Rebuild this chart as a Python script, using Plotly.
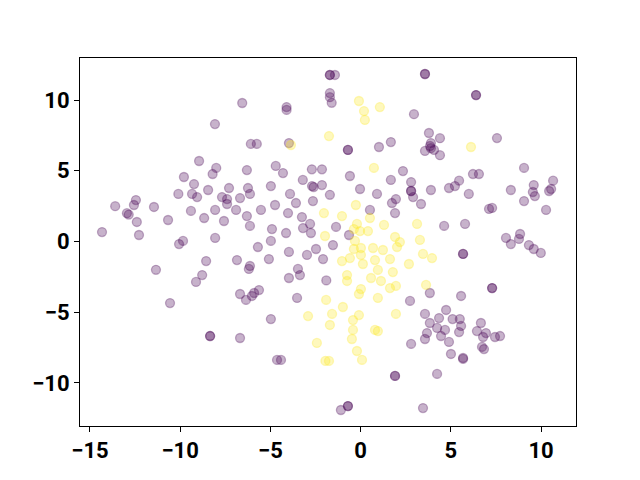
import plotly.graph_objects as go

purple_x = [-8.95, -9.79, -1.7, -1.7, -1.42, -1.7, -1.7, -1.6, -6.56, -4.1, -4.1, -8.07,
            -6.08, -5.75, -3.97, -8.0, -8.2, -6.3, -4.7, -4.3, -3.2, -2.7, -2.14,
            3.57, 3.57, 2.96, 3.79, 4.4, 3.9, 3.85, 3.9, 3.57, 4.07, 4.4, -0.7, -0.7,
            1.02, 1.68, -0.59, 2.35, 1.68, 2.8, 6.4, 6.4, 7.56, 9.06, 6.23, 6.56, 5.46, 10.67,
            -9.23, -10.1, -9.34, -9.06, -13.6, -12.45, -12.56, -12.95, -12.85, -11.45, -12.4,
            -14.33, -12.28, -10.67, -9.4, -8.67, -9.84, -10.06, -11.34, -8.56, -8.78, -9.12, -10.56,
            -8.45, -7.29, -7.68, -7.4, -7.4, -6.68, -6.24, -6.13, -4.97, -8.06, -6.9, -7.57,
            -6.3, -6.13, -5.52, -4.74, -3.91, -3.58, -2.69, -2.6, -2.14, -1.7, -2.64, -4.02,
            -3.25, -2.8, -3.19, -2.75, -4.91, -4.13, -8.06, -4.97, -5.69, -3.97, -2.97, -2.47,
            -2.08, -6.85, -5.08, -6.13, -6.19, -3.47, -3.36, -3.97, -1.9, -6.68, -6.02, -5.9,
            -5.63, -6.35, -3.52, -0.03, 0.91, 2.8, 2.8, 2.91, 1.74, 1.96, 1.91, 3.9, 3.35, 4.9,
            4.63, 0.52, -1.36, -0.64, -1.53, 3.84, 2.74, 5.23, 6.0, 8.33, 9.06, 9.6, 9.55, 9.66,
            10.45, 10.56, 10.28, 7.12, 7.29, 5.79, 8.06, 8.33, 8.78, 8.84, 9.33, 9.6, 9.99,
            5.68, 5.68, 7.29, 7.29, 5.57, -4.97, -8.34, -8.34, -6.68, -4.63, -4.41,
            3.57, 3.84, 3.68, 3.57, 4.35, 4.74, 4.24, 4.68, 4.46, 4.9, 5.01, 2.8, 1.91, 1.91,
            4.24, -0.7, -0.7, -1.09, 3.46, 5.1, 5.5, 5.57, 5.46, 6.67, 6.45, 6.95, 6.79,
            7.45, 7.73, 6.73, 6.84, 5.68, 5.68]
purple_y = [5.69, 4.56, 11.77, 11.77, 11.77, 10.49, 10.2, 9.8, 9.79, 9.5, 9.3, 8.3,
            6.9, 6.9, 6.96, 5.2, 4.77, 5.05, 5.34, 4.84, 4.35, 5.1, 5.1,
            11.84, 11.84, 9.0, 7.67, 7.3, 6.96, 6.75, 6.6, 6.4, 6.47, 6.1, 6.47, 6.47,
            6.68, 7.03, 4.63, 4.98, 4.35, 4.2, 10.35, 10.35, 7.31, 5.2, 4.77, 4.77, 4.3, 4.3,
            4.06, 3.36, 3.36, 3.14, 2.5, 2.93, 2.58, 2.0, 1.9, 2.44, 1.38,
            0.67, 0.46, 1.52, 2.16, 1.66, 0.04, -0.18, -2.0, -1.38, -2.37, -2.86, -4.35,
            3.64, 3.78, 3.14, 3.0, 2.65, 3.07, 3.78, 3.36, 3.92, 2.23, 2.23, 1.45,
            1.8, 1.1, 2.23, 2.58, 3.36, 2.72, 3.92, 3.85, 3.99, 3.3, 2.86, 2.01,
            1.73, 1.24, 0.95, 0.6, 0.88, 0.6, 0.25, 0.04, -0.39, -0.74, -0.95, -0.53,
            -1.24, -1.31, -1.24, -1.73, -1.94, -1.94, -2.37, -2.58, -2.75, -3.71, -3.85, -3.64,
            -3.43, -4.13, -3.99, 3.71, 3.36, 3.57, 3.57, 3.14, 2.72, 3.0, 2.01, 3.64, 2.65, 3.78,
            1.1, 2.23, 1.03, 0.46, -0.25, -3.64, -4.2, 3.92, 3.36, 3.64, 2.86, 3.99, 3.5, 3.21,
            3.57, 3.71, 2.23, 2.3, 2.37, 1.24, 0.25, -0.18, 0.18, 0.53, -0.25, -0.53, -0.81,
            -0.88, -0.88, -3.29, -3.29, -3.85, -5.48, -6.68, -6.68, -6.82, -8.37, -8.37,
            -5.12, -5.76, -6.47, -6.89, -5.41, -4.84, -6.11, -6.25, -6.68, -7.1, -7.95, -7.24, -9.5, -9.5,
            -9.36, -11.63, -11.63, -11.91, -11.77, -5.48, -5.48, -5.97, -6.4, -5.76, -6.33, -6.47, -6.75,
            -6.75, -6.68, -7.45, -7.6, -8.23, -8.3]

yellow_x = [-3.86, -1.75, -0.09, 1.07, 0.19, 0.24, 0.74, 6.12, -2.03, -1.97, -1.91, -0.26,
            -1.03, 0.52, -0.2, -0.37, -0.03, 0.41, 1.3, 3.13, 1.91, 2.18, 2.02, 3.29, -0.31,
            -0.37, 0.02, 0.02, 0.69, 1.24, 3.46, 3.96, -1.03, -0.59, 0.8, 1.63, 2.68, 0.13,
            0.96, 1.79, -0.75, -0.75, 0.58, 1.13, 3.63, 1.96, 1.63, 0.02, -0.09, 0.96,
            -2.91, -2.42, -1.95, -1.75, -1.7, -1.58, -0.98, -0.09, -0.42, 1.96, -0.42, 0.8,
            0.96, -0.48, -0.2, 0.08]
yellow_y = [6.82, 7.45, 9.93, 9.5, 9.22, 8.59, 5.2, 6.68, 2.01, 0.39, -4.13, 2.58,
            1.8, 1.66, 1.24, 0.88, 0.74, 0.74, 1.17, 1.24, 0.32, -0.04, -0.39, 0.11, 0.04,
            -0.53, -0.46, -0.95, -0.46, -0.6, -0.88, -1.17, -1.38, -1.17, -1.31, -1.24, -1.59, -1.59,
            -2.01, -2.16, -2.37, -2.79, -2.58, -2.79, -3.07, -3.14, -3.29, -3.36, -3.71, -3.99,
            -5.27, -7.17, -8.44, -8.44, -5.9, -5.12, -4.63, -5.2, -5.55, -5.12, -6.25, -6.25,
            -6.33, -6.89, -7.74, -8.37]

x_ticks = [-15, -10, -5, 0, 5, 10]
y_ticks = [-10, -5, 0, 5, 10]

PURPLE = "rgba(68,1,84,0.3)"
YELLOW = "rgba(253,231,37,0.3)"

fig = go.Figure()
fig.add_trace(go.Scatter(x=purple_x, y=purple_y, mode="markers",
                         marker=dict(size=9, color=PURPLE, line=dict(color=PURPLE, width=1.3)),
                         showlegend=False))
fig.add_trace(go.Scatter(x=yellow_x, y=yellow_y, mode="markers",
                         marker=dict(size=9, color=YELLOW, line=dict(color=YELLOW, width=1.3)),
                         showlegend=False))

axis_common = dict(showgrid=False, zeroline=False, showline=True, mirror=True,
                   linecolor="black", linewidth=1, ticks="outside", ticklen=5,
                   tickwidth=1, tickcolor="black",
                   tickfont=dict(family="Roboto", size=22, color="black", weight="bold"))

fig.update_xaxes(range=[-15.55, 11.94], tickvals=x_ticks,
                 ticktext=[f"{v}".replace("-", "\u2212") for v in x_ticks], **axis_common)
fig.update_yaxes(range=[-13.04, 12.97], tickvals=y_ticks,
                 ticktext=[f"{v}".replace("-", "\u2212") for v in y_ticks], **axis_common)

fig.update_layout(width=640, height=480, plot_bgcolor="white", paper_bgcolor="white",
                  margin=dict(l=72, r=72, t=50, b=62))
fig.write_html("out.html")
